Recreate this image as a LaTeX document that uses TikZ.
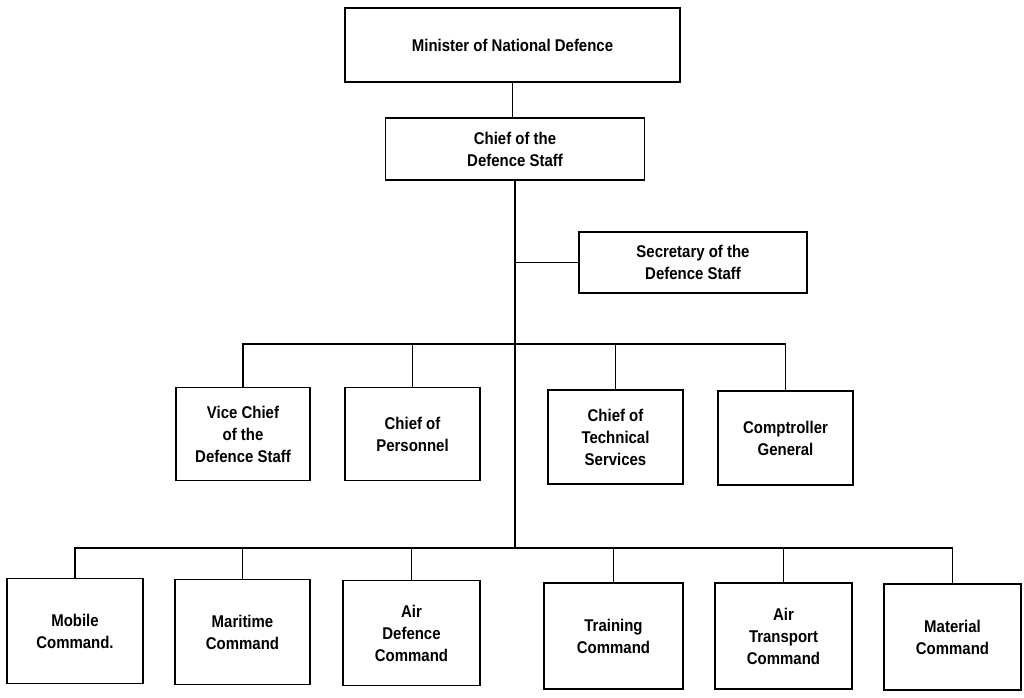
\documentclass[tikz,border=0pt]{standalone}
\usepackage{fontspec}
\setmainfont{Liberation Sans}[FakeStretch=0.88,BoldFeatures={FakeStretch=0.88}]
\begin{document}
\begin{tikzpicture}[x=1pt,y=-1pt,
  box/.style={draw,line width=1.6pt,align=center,inner sep=2pt,font=\fontsize{17}{22}\selectfont\bfseries},
  link/.style={line width=1.6pt}]
\useasboundingbox (0,0) rectangle (1024,697);
\node[box,minimum width=335pt,minimum height=74pt] (min) at (512.5,45) {Minister of National Defence};
\node[box,minimum width=259pt,minimum height=62pt] (cds) at (515,149) {Chief of the\\Defence Staff};
\node[box,minimum width=228pt,minimum height=61pt] (sec) at (693,262.5) {Secretary of the\\Defence Staff};
\node[box,minimum width=134pt,minimum height=93pt] (vc) at (243,434) {Vice Chief\\of the\\Defence Staff};
\node[box,minimum width=135pt,minimum height=93pt] (per) at (412.5,434) {Chief of\\Personnel};
\node[box,minimum width=135pt,minimum height=94pt] (tech) at (615.5,437) {Chief of\\Technical\\Services};
\node[box,minimum width=135pt,minimum height=94pt] (comp) at (785.5,438) {Comptroller\\General};
\node[box,minimum width=136pt,minimum height=105pt] (mob) at (75,631) {Mobile\\Command.};
\node[box,minimum width=135pt,minimum height=105pt] (mar) at (242.5,632) {Maritime\\Command};
\node[box,minimum width=137pt,minimum height=105pt] (adc) at (411.5,633) {Air\\Defence\\Command};
\node[box,minimum width=139pt,minimum height=106pt] (trn) at (613.5,636) {Training\\Command};
\node[box,minimum width=137pt,minimum height=106pt] (atc) at (783.5,636) {Air\\Transport\\Command};
\node[box,minimum width=137pt,minimum height=106pt] (mat) at (952.5,637) {Material\\Command};
\coordinate (bus2) at (515,344);
\coordinate (bus3) at (515,548);
\draw[link] (min.south) -- (min.south |- cds.north);
\draw[link] (cds.south) -- (bus3);
\draw[link] (sec.west) -- (sec.west -| cds.south);
\draw[link] (vc.north) |- (bus2) -| (comp.north);
\draw[link] (per.north) -- (per.north |- bus2);
\draw[link] (tech.north) -- (tech.north |- bus2);
\draw[link] (mob.north) |- (bus3) -| (mat.north);
\draw[link] (mar.north) -- (mar.north |- bus3);
\draw[link] (adc.north) -- (adc.north |- bus3);
\draw[link] (trn.north) -- (trn.north |- bus3);
\draw[link] (atc.north) -- (atc.north |- bus3);
\end{tikzpicture}
\end{document}
